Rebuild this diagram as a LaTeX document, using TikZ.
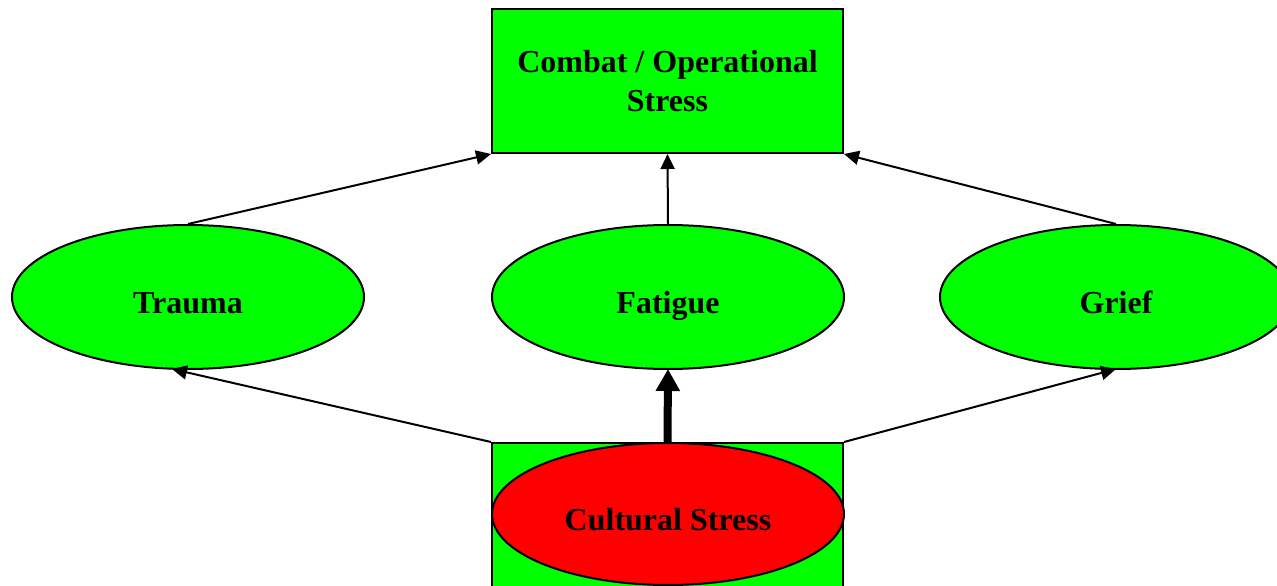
\documentclass[tikz,border=0pt]{standalone}
\usepackage{fontspec}
\setmainfont{Liberation Serif}
\usetikzlibrary{shapes.geometric,arrows.meta}
\definecolor{brightgreen}{RGB}{0,255,0}
\definecolor{brightred}{RGB}{255,0,0}
\tikzset{
  boxnode/.style={draw=black, line width=2pt, fill=brightgreen, rectangle, inner sep=0pt,
    minimum width=351pt, minimum height=144pt, align=center,
    font=\fontsize{32}{38.5}\selectfont\bfseries},
  ovalnode/.style={draw=black, line width=2pt, fill=brightgreen, ellipse, inner sep=0pt,
    minimum width=352pt, minimum height=144pt, text height=33pt, text depth=0pt,
    font=\fontsize{32}{38}\selectfont\bfseries},
  thinarrow/.style={draw=black, line width=2pt, -{Triangle[length=15pt,width=14pt]}},
  thickarrow/.style={draw=black, line width=8pt, -{Triangle[length=22pt,width=23pt]}}
}
\begin{document}
\begin{tikzpicture}[x=1pt,y=-1pt]
\useasboundingbox (0,0) rectangle (1277,586);
\clip (0,0) rectangle (1277,586);
\node[boxnode] (Combat) at (667.5,81) {Combat / Operational\\Stress};
\node[ovalnode] (Trauma) at (188,297) {Trauma};
\node[ovalnode] (Fatigue) at (668,297) {Fatigue};
\node[ovalnode] (Grief) at (1116,297) {Grief};
\node[boxnode, minimum height=170pt] (CultBox) at (667.5,528) {};
\node[ovalnode, fill=brightred, minimum height=142pt] (Cultural) at (668,514) {Cultural Stress};
\draw[thinarrow] (Trauma.north) -- (Combat.south west);
\draw[thinarrow] (Fatigue.north) -- (Combat.south);
\draw[thinarrow] (Grief.north) -- (Combat.south east);
\draw[thinarrow] (CultBox.north west) -- ([xshift=-16pt,yshift=1pt]Trauma.south);
\draw[thinarrow] (CultBox.north east) -- ([yshift=1pt]Grief.south);
\draw[thickarrow] (CultBox.north) -- ([yshift=1pt]Fatigue.south);
\end{tikzpicture}
\end{document}
